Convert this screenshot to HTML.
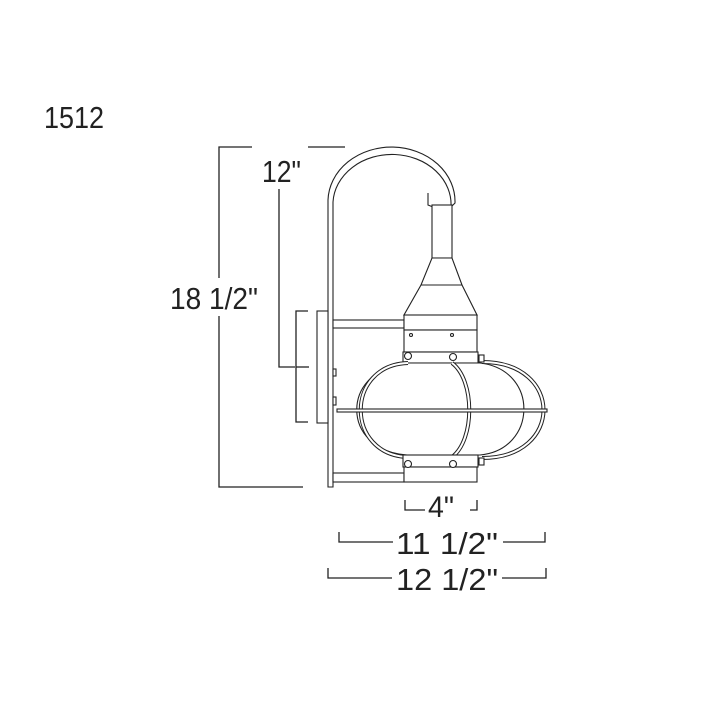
<!DOCTYPE html>
<html><head><style>
html,body{margin:0;padding:0;background:#fff;}
svg{display:block}
text{font-family:"Liberation Sans",sans-serif;fill:#222;}
</style></head><body>
<svg width="705" height="705" viewBox="0 0 705 705" xmlns="http://www.w3.org/2000/svg">
<rect width="705" height="705" fill="#fff"/>
<text x="44" y="128" font-size="31" textLength="60" lengthAdjust="spacingAndGlyphs">1512</text>
<g stroke="#222" stroke-width="1.3" fill="none">
  <polyline points="252,147 219,147 219,487 303,487"/>
  <line x1="308" y1="147" x2="345" y2="147"/>
  <polyline points="279,189 279,367 295,367"/>
  <polyline points="308,311 296,311 296,422 308,422"/>
  <line x1="296" y1="367" x2="309" y2="367"/>
  <polyline points="405,500 405,510 425,510"/>
  <polyline points="470,510 477,510 477,500"/>
  <polyline points="339,532 339,542 393,542"/>
  <polyline points="503,542 545,542 545,532"/>
  <polyline points="328,568 328,578 392,578"/>
  <polyline points="502,578 546,578 546,568"/>
</g>
<rect x="160" y="278" width="100" height="38" fill="#fff"/>
<text x="170" y="309" font-size="31" textLength="88" lengthAdjust="spacingAndGlyphs">18 1/2"</text>
<text x="262" y="182" font-size="31" textLength="39" lengthAdjust="spacingAndGlyphs">12"</text>
<text x="428" y="517" font-size="30" textLength="26" lengthAdjust="spacingAndGlyphs">4"</text>
<text x="396" y="554" font-size="31" textLength="102" lengthAdjust="spacingAndGlyphs">11 1/2"</text>
<text x="396" y="590" font-size="31" textLength="102" lengthAdjust="spacingAndGlyphs">12 1/2"</text>
<g stroke="#222" stroke-width="1.1" fill="#fff">
  <path d="M328,487 L328,200 A63,54 0 0 1 455,203 L451,207 A59,50 0 0 0 333,202 L333,487 Z"/>
  <path d="M428,193 L428,205 L433,207" fill="none"/>
  <rect x="317" y="311" width="11" height="112"/>
  <rect x="333" y="369" width="3" height="7"/>
  <rect x="333" y="397" width="3" height="8"/>
  <rect x="333" y="320" width="71" height="8"/>
  <rect x="333" y="473" width="71" height="9"/>
  <rect x="432" y="205" width="20" height="53"/>
  <polygon points="432,258 452,258 462,285 477,315 404,315 421,285"/>
  <line x1="421" y1="285" x2="462" y2="285"/>
  <rect x="404" y="315" width="73" height="15"/>
  <rect x="404" y="330" width="73" height="22"/>
  <rect x="403" y="352" width="75" height="11"/>
  <circle cx="411" cy="335" r="1.5"/>
  <circle cx="452" cy="335" r="1.5"/>
  <path d="M407,363 L480,363 C540,370 537,450 480,455 L407,455 C340,450 340,370 407,363 Z"/>
  <path d="M482,362 C564,362 564,458 482,458" fill="none" stroke-width="4"/>
  <path d="M482,362 C564,362 564,458 482,458" fill="none" stroke="#fff" stroke-width="2"/>
  <path d="M408,363 C345,365 345,455 408,457" fill="none" stroke-width="4"/>
  <path d="M408,363 C345,365 345,455 408,457" fill="none" stroke="#fff" stroke-width="2"/>
  <path d="M452,363 C475,380 475,440 452,457" fill="none" stroke-width="4"/>
  <path d="M452,363 C475,380 475,440 452,457" fill="none" stroke="#fff" stroke-width="2"/>
  <rect x="337" y="409" width="210" height="3"/>
  <rect x="403" y="455" width="75" height="12"/>
  <rect x="404" y="467" width="73" height="15"/>
  <circle cx="408" cy="356" r="3.5"/>
  <circle cx="453" cy="357" r="3.5"/>
  <rect x="479" y="355" width="5" height="7"/>
  <circle cx="408" cy="464" r="3.5"/>
  <circle cx="453" cy="464" r="3.5"/>
  <rect x="479" y="458" width="5" height="7"/>
</g>
</svg>
</body></html>
